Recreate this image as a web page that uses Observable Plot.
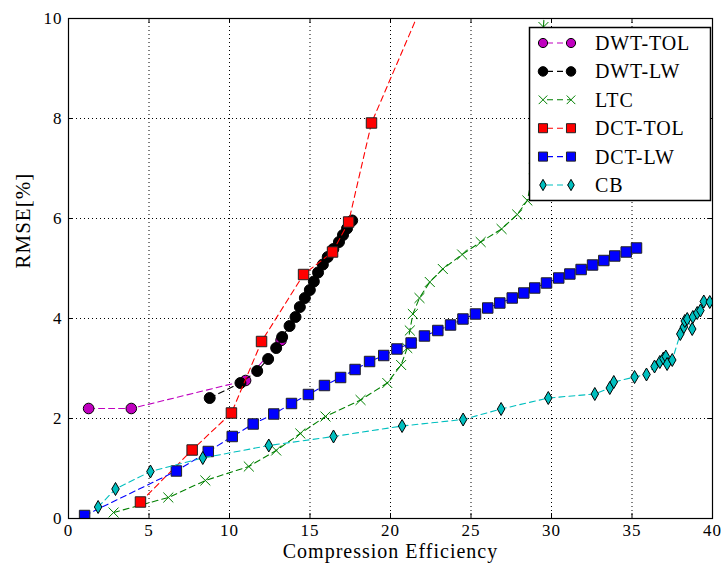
<!DOCTYPE html>
<html><head><meta charset="utf-8">
<script src="https://cdn.jsdelivr.net/npm/d3@7"></script>
<script src="https://cdn.jsdelivr.net/npm/@observablehq/plot@0.6"></script>
<style>
body{margin:0;background:#fff;}
#wrap{position:relative;width:723px;height:566px;overflow:hidden;font-family:"Liberation Serif","DejaVu Serif",serif;}
#wrap svg text{font-family:"Liberation Serif","DejaVu Serif",serif;}
#legend{position:absolute;left:0;top:0;}
</style></head><body><div id="wrap"></div>
<script>
const xTicks = [0, 5, 10, 15, 20, 25, 30, 35, 40];
const yTicks = [0, 2, 4, 6, 8, 10];
const names = ["DWT-TOL", "DWT-LW", "LTC", "DCT-TOL", "DCT-LW", "CB"];

const dwtTolX = [1.25, 3.9, 11.0, 13.2];
const dwtTolY = [2.2, 2.2, 2.76, 3.56];

const dwtLwX = [8.77,10.68,11.72,12.4,12.9,13.27,13.73,14.1,14.37,14.68,14.99,15.24,15.5,15.8,16.1,16.45,16.8,17.05,17.3,17.62];
const dwtLwY = [2.41,2.71,2.95,3.19,3.41,3.63,3.85,4.03,4.23,4.41,4.57,4.74,4.92,5.08,5.23,5.39,5.53,5.67,5.8,5.96];

const ltcX = [2.8, 6.2, 8.5, 11.2, 12.9, 14.4, 15.96, 18.14, 19.8, 20.66, 21.04, 21.2, 21.39, 21.8, 22.44, 23.25, 24.45, 25.6, 26.9, 27.87, 28.5, 28.9, 29.1, 29.3, 29.5, 29.7];
const ltcY = [0.12, 0.42, 0.76, 1.04, 1.36, 1.7, 2.04, 2.37, 2.71, 3.07, 3.41, 3.76, 4.09, 4.41, 4.73, 4.99, 5.28, 5.53, 5.79, 6.08, 6.36, 7.0, 7.8, 8.7, 9.83, 10.9];

const dctTolX = [4.47, 7.68, 10.12, 11.99, 14.6, 16.4, 17.4, 18.82, 22.4];
const dctTolY = [0.33, 1.37, 2.11, 3.54, 4.88, 5.33, 5.93, 7.91, 10.6];

const dctLwX = [1.0, 6.7, 8.68, 10.17, 11.47, 12.75, 13.85, 14.9, 15.9, 16.9, 17.8, 18.7, 19.58, 20.4, 21.28, 22.11, 22.94, 23.73, 24.5, 25.28, 26.04, 26.79, 27.56, 28.28, 28.96, 29.69, 30.45, 31.14, 31.84, 32.55, 33.25, 33.93, 34.64, 35.28];
const dctLwY = [0.06, 0.95, 1.34, 1.64, 1.89, 2.09, 2.3, 2.48, 2.66, 2.82, 2.98, 3.14, 3.26, 3.39, 3.51, 3.65, 3.76, 3.87, 3.99, 4.09, 4.21, 4.31, 4.41, 4.51, 4.61, 4.71, 4.81, 4.89, 4.98, 5.07, 5.16, 5.25, 5.33, 5.41];

const cbX = [1.84, 2.92, 5.09, 8.34, 12.44, 16.46, 20.72, 24.51, 26.87, 29.8, 32.69, 33.62, 33.87, 35.16, 35.9, 36.4, 36.73, 36.95, 37.1, 37.18, 37.5, 38.0, 38.22, 38.28, 38.43, 38.74, 38.78, 39.05, 39.25, 39.46, 39.83];
const cbY = [0.23, 0.59, 0.94, 1.21, 1.46, 1.64, 1.85, 1.98, 2.19, 2.41, 2.49, 2.61, 2.73, 2.83, 2.88, 3.04, 3.13, 3.2, 3.24, 3.09, 3.17, 3.69, 3.83, 3.95, 3.99, 3.79, 4.03, 4.11, 4.16, 4.34, 4.33];

const FONT = "'Liberation Serif', 'DejaVu Serif', serif";
const series = [
  {name: names[0], xs: dwtTolX, ys: dwtTolY, color: "#bf00bf", symbol: "circle", r: 5.3, fill: "#bf00bf", stroke: "#000"},
  {name: names[1], xs: dwtLwX, ys: dwtLwY, color: "#000000", symbol: "circle", r: 5.5, fill: "#000", stroke: "#000"},
  {name: names[2], xs: ltcX, ys: ltcY, color: "#008000", symbol: "times", r: 4.6, fill: "none", stroke: "#008000"},
  {name: names[3], xs: dctTolX, ys: dctTolY, color: "#ff0000", symbol: "square", r: 5.9, fill: "#ff0000", stroke: "#222"},
  {name: names[4], xs: dctLwX, ys: dctLwY, color: "#0000ff", symbol: "square", r: 5.9, fill: "#0000ff", stroke: "#222"},
  {name: names[5], xs: cbX, ys: cbY, color: "#00bfbf", symbol: "diamond", r: 3.95, fill: "#00bfbf", stroke: "#000"}
];

const marks = [];
marks.push(Plot.ruleX(xTicks.slice(1, -1), {stroke: "#000", strokeWidth: 1, strokeDasharray: "1,3"}));
marks.push(Plot.ruleY(yTicks.slice(1, -1), {stroke: "#000", strokeWidth: 1, strokeDasharray: "1,3"}));
for (const s of series) {
  const d = s.xs.map((x, i) => ({x, y: s.ys[i]}));
  marks.push(Plot.line(d, {x: "x", y: "y", stroke: s.color, strokeWidth: 1.1, strokeDasharray: "6,4", clip: true}));
  marks.push(Plot.dot(d, {x: "x", y: "y", symbol: s.symbol, r: s.r, fill: s.fill, stroke: s.stroke, strokeWidth: 1, clip: true}));
}
// inward ticks
marks.push(Plot.ruleX(xTicks, {y1: 0, y2: 0.1, stroke: "#000"}));
marks.push(Plot.ruleX(xTicks, {y1: 9.9, y2: 10, stroke: "#000"}));
marks.push(Plot.ruleY(yTicks, {x1: 0, x2: 0.3, stroke: "#000"}));
marks.push(Plot.ruleY(yTicks, {x1: 39.7, x2: 40, stroke: "#000"}));
marks.push(Plot.frame({stroke: "#000", strokeWidth: 1.2}));
marks.push(Plot.text(["Compression Efficiency"], {frameAnchor: "bottom", dy: 39, fontSize: 20, fill: "#000", letterSpacing: "0.8px"}));
marks.push(Plot.text(["RMSE[%]"], {frameAnchor: "left", dx: -45, rotate: -90, fontSize: 21, fill: "#000", letterSpacing: "0.6px"}));

const chart = Plot.plot({
  width: 723, height: 566,
  marginLeft: 68, marginRight: 11, marginTop: 18, marginBottom: 48,
  style: {fontFamily: FONT, fontSize: "17px", color: "#000", background: "#fff", letterSpacing: "1px"},
  x: {domain: [0, 40], ticks: xTicks, tickSize: 0, tickPadding: 5, label: null},
  y: {domain: [0, 10], ticks: yTicks, tickSize: 0, tickPadding: 6, label: null},
  marks
});
const wrap = document.getElementById("wrap");
wrap.appendChild(chart);

// legend overlay
const L = d3.select(wrap).append("svg").attr("id", "legend").attr("width", 723).attr("height", 566);
L.append("rect").attr("x", 529.5).attr("y", 27.5).attr("width", 181).attr("height", 173)
  .attr("fill", "#fff").attr("stroke", "#000").attr("stroke-width", 1.5);
const symMap = {circle: d3.symbolCircle, square: d3.symbolSquare, diamond: d3.symbolDiamond, times: d3.symbolTimes};
series.forEach((s, i) => {
  const cy = 43 + i * 28.4;
  L.append("line").attr("x1", 543).attr("x2", 571).attr("y1", cy).attr("y2", cy)
    .attr("stroke", s.color).attr("stroke-width", 1.1).attr("stroke-dasharray", "6,4").attr("stroke-dashoffset", -4);
  for (const mx of [543, 571]) {
    const size = Math.PI * s.r * s.r * 0.75;
    L.append("path").attr("d", d3.symbol(symMap[s.symbol], size)())
      .attr("transform", `translate(${mx},${cy})`)
      .attr("fill", s.fill).attr("stroke", s.stroke).attr("stroke-width", 1);
  }
  L.append("text").attr("x", 595).attr("y", cy + 7).text(s.name)
    .style("font-family", FONT).attr("font-size", 20).attr("letter-spacing", "0.9px").attr("fill", "#000");
});
</script>
</body></html>
